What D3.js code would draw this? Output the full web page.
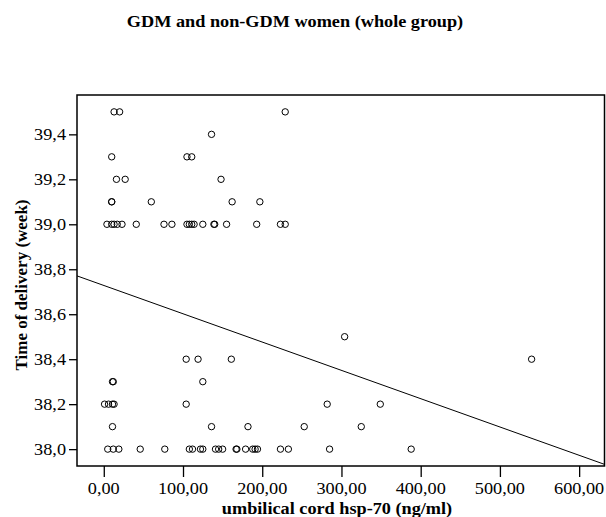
<!DOCTYPE html>
<html>
<script src="https://d3js.org/d3.v7.min.js"></script>
<style>
  body { margin: 0; background: #fff; }
  text { font-family: "Liberation Serif", "Times New Roman", serif; fill: #000; }
  circle { fill: none; stroke: #000; stroke-width: 1; }
</style>
<body>
<svg width="606" height="517"></svg>
<script>
// umbilical cord hsp-70 (ng/ml) for each delivery week
const hsp = [
  13, 20, 229,
  136,
  10, 105, 111,
  16, 27, 148,
  10, 10, 60, 162, 197,
  4, 10, 13, 17, 23, 41, 76, 86, 105, 108, 111, 114, 125, 139, 140, 155, 193, 223, 229,
  304,
  104, 119, 161, 540,
  11, 12, 125,
  1, 6, 11, 13, 104, 282, 349,
  11, 136, 182, 253, 325,
  5, 12, 19, 46, 77, 108, 112, 122, 125, 141, 145, 150, 167, 168, 179, 188, 191, 194, 223, 233, 285, 388
];
const week = [
  39.5, 39.5, 39.5,
  39.4,
  39.3, 39.3, 39.3,
  39.2, 39.2, 39.2,
  39.1, 39.1, 39.1, 39.1, 39.1,
  39.0, 39.0, 39.0, 39.0, 39.0, 39.0, 39.0, 39.0, 39.0, 39.0, 39.0, 39.0, 39.0, 39.0, 39.0, 39.0, 39.0, 39.0, 39.0,
  38.5,
  38.4, 38.4, 38.4, 38.4,
  38.3, 38.3, 38.3,
  38.2, 38.2, 38.2, 38.2, 38.2, 38.2, 38.2,
  38.1, 38.1, 38.1, 38.1, 38.1,
  38.0, 38.0, 38.0, 38.0, 38.0, 38.0, 38.0, 38.0, 38.0, 38.0, 38.0, 38.0, 38.0, 38.0, 38.0, 38.0, 38.0, 38.0, 38.0, 38.0, 38.0, 38.0
];
const xTicks = [0, 100, 200, 300, 400, 500, 600];
const yTicks = [38.0, 38.2, 38.4, 38.6, 38.8, 39.0, 39.2, 39.4];
// fit line: week = a + b * hsp
const fitLine = [38.728, -0.001259];

const svg = d3.select("svg");
const pLeft = 77, pRight = 604.5, pTop = 95, pBottom = 466;
const sx = 1.14; // text in the picture is a bit wide

const x = d3.scaleLinear().domain([-33.8, 632]).range([pLeft, pRight]);
const y = d3.scaleLinear().domain([37.925, 39.575]).range([pBottom, pTop]);

const fmt = (d, n) => d.toFixed(n).replace(".", ",");

function label(g, tx, ty, str, anchor, size, weight, rot) {
  return g.append("text")
    .attr("transform", `translate(${tx},${ty})` + (rot ? ` rotate(${rot})` : ` scale(${sx},1)`))
    .attr("text-anchor", anchor)
    .style("font-size", size + "px")
    .style("font-weight", weight)
    .text(str);
}

// title
label(svg, 295, 27, "GDM and non-GDM women (whole group)", "middle", 16, "bold");

// clip for the fit line
svg.append("clipPath").attr("id", "plot")
  .append("rect").attr("x", pLeft).attr("y", pTop)
  .attr("width", pRight - pLeft).attr("height", pBottom - pTop);

const xAxis = d3.axisBottom(x).tickValues(xTicks).tickSize(11).tickFormat(d => fmt(d, 2));
const yAxis = d3.axisLeft(y).tickValues(yTicks).tickSize(8).tickFormat(d => fmt(d, 1));

const gx = svg.append("g").attr("transform", `translate(0,${pBottom})`).call(xAxis);
gx.select(".domain").remove();
gx.selectAll(".tick line").attr("stroke", "#000").attr("stroke-width", 1.3);
gx.selectAll(".tick text").remove();
xTicks.forEach(d => label(svg, x(d), 494, fmt(d, 2), "middle", 16, "normal"));

const gy = svg.append("g").attr("transform", `translate(${pLeft},0)`).call(yAxis);
gy.select(".domain").remove();
gy.selectAll(".tick line").attr("stroke", "#000").attr("stroke-width", 1.3);
gy.selectAll(".tick text").remove();
yTicks.forEach(d => label(svg, 66, y(d) + 5.5, fmt(d, 1), "end", 16, "normal"));

// frame
svg.append("rect")
  .attr("x", pLeft).attr("y", pTop)
  .attr("width", pRight - pLeft).attr("height", pBottom - pTop)
  .attr("fill", "none").attr("stroke", "#000").attr("stroke-width", 1.5);

// fit line
const xd = x.domain();
svg.append("line")
  .attr("clip-path", "url(#plot)")
  .attr("x1", x(xd[0])).attr("y1", y(fitLine[0] + fitLine[1] * xd[0]))
  .attr("x2", x(xd[1])).attr("y2", y(fitLine[0] + fitLine[1] * xd[1]))
  .attr("stroke", "#000").attr("stroke-width", 1);

// points
svg.append("g").selectAll("circle")
  .data(hsp)
  .enter().append("circle")
  .attr("cx", d => x(d))
  .attr("cy", (d, i) => y(week[i]))
  .attr("r", 3.2);

// axis titles
label(svg, 337, 514, "umbilical cord hsp-70 (ng/ml)", "middle", 16, "bold");
label(svg, 27, 285, "Time of delivery (week)", "middle", 17, "bold", -90);
</script>
</body>
</html>
